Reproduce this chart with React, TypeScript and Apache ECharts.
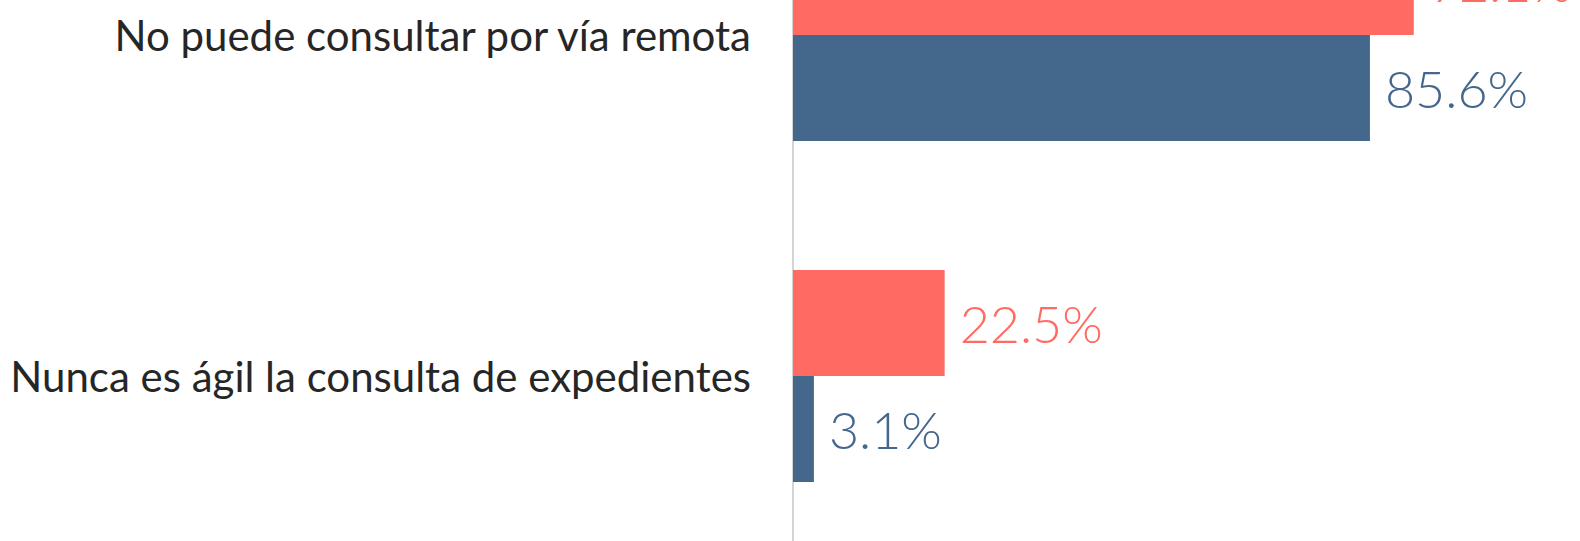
import React, { useEffect, useRef } from "react";
import * as echarts from "echarts";

const categories = [
  "No puede consultar por vía remota",
  "Nunca es ágil la consulta de expedientes",
];
const seriesNames = ["Serie A", "Serie B"];
const redValues = [92.1, 22.5];
const blueValues = [85.6, 3.1];

const RED = "#FF6B63";
const BLUE = "#44678C";

export default function App() {
  const ref = useRef<HTMLDivElement>(null);
  useEffect(() => {
    if (!ref.current) return;
    const chart = echarts.init(ref.current, null, { renderer: "svg" });
    const labelStyle = (color: string) => ({
      show: true,
      position: "right" as const,
      distance: 15,
      color,
      fontFamily: "Lato",
      fontWeight: 300,
      fontSize: 52,
      formatter: (p: any) => `${Number(p.value).toFixed(1)}%`,
    });
    chart.setOption({
      animation: false,
      backgroundColor: "#ffffff",
      grid: { left: 793, right: 113, top: 64.5, bottom: 53.5, containLabel: false },
      xAxis: { type: "value", min: 0, max: 100, show: false },
      yAxis: {
        type: "category",
        inverse: true,
        data: categories,
        axisTick: { show: false },
        axisLine: { show: true, lineStyle: { color: "#D4D4D4", width: 2 } },
        axisLabel: {
          margin: 42,
          color: "#262626",
          fontFamily: "Lato",
          fontSize: 42,
          padding: [0, 0, 14, 0],
        },
      },
      series: [
        {
          name: seriesNames[0],
          type: "bar",
          data: redValues,
          barWidth: 106,
          barGap: "0%",
          itemStyle: { color: RED },
          label: labelStyle(RED),
        },
        {
          name: seriesNames[1],
          type: "bar",
          data: blueValues,
          barWidth: 106,
          barGap: "0%",
          itemStyle: { color: BLUE },
          label: labelStyle(BLUE),
        },
      ],
    });
    return () => chart.dispose();
  }, []);
  return (
    <div
      style={{
        position: "fixed",
        left: 0,
        top: 0,
        width: 1580,
        height: 541,
        overflow: "hidden",
        background: "#fff",
      }}
    >
      <div
        ref={ref}
        style={{ position: "absolute", left: 0, top: -200, width: 1580, height: 800 }}
      />
    </div>
  );
}
